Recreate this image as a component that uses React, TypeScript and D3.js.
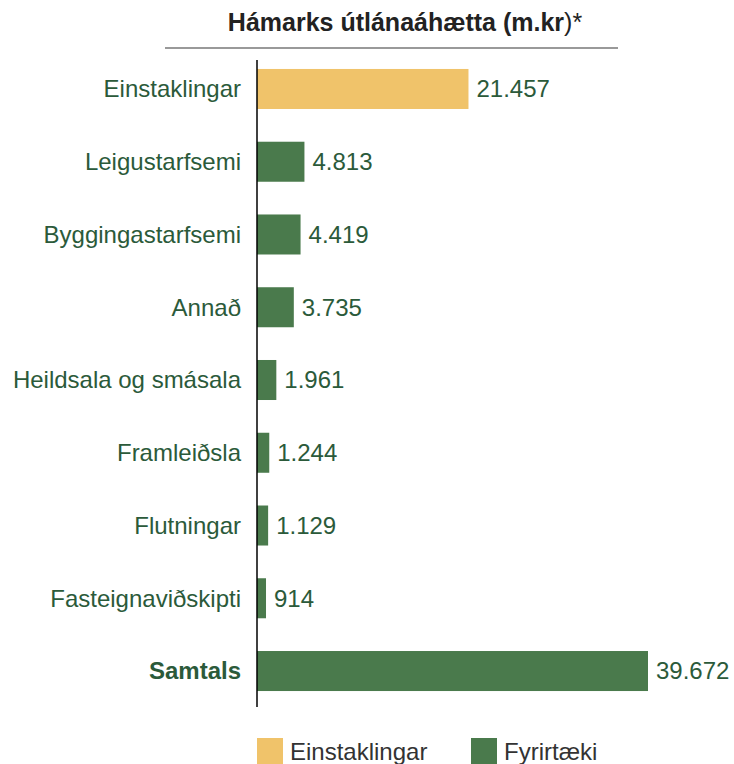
import React from 'react';
import * as d3 from 'd3';

// data
const categories = [
  'Einstaklingar',
  'Leigustarfsemi',
  'Byggingastarfsemi',
  'Annað',
  'Heildsala og smásala',
  'Framleiðsla',
  'Flutningar',
  'Fasteignaviðskipti',
  'Samtals',
];
const values = [21457, 4813, 4419, 3735, 1961, 1244, 1129, 914, 39672];
const groups = ['Einstaklingar', 'Fyrirtæki', 'Fyrirtæki', 'Fyrirtæki', 'Fyrirtæki', 'Fyrirtæki', 'Fyrirtæki', 'Fyrirtæki', 'Fyrirtæki'];
const legendItems = ['Einstaklingar', 'Fyrirtæki'];

const colors: Record<string, string> = {
  Einstaklingar: '#F0C36A',
  Fyrirtæki: '#4A7A4C',
};
const textColor = '#2B5A3A';
const font = 'Arial, "Liberation Sans", sans-serif';

export default function App() {
  const width = 734;
  const height = 764;
  const x0 = 257;

  const xScale = d3.scaleLinear().domain([0, 39672]).range([x0, 648]);
  const yScale = d3.scaleBand<string>()
    .domain(categories)
    .range([52.6, 707.4])
    .paddingInner(0.45)
    .paddingOuter(0.225);

  const fmt = (v: number) => d3.format(',')(v).replace(/,/g, '.');

  return (
    <svg width={width} height={height} style={{position: 'absolute', left: 0, top: 0, fontFamily: font}}>
      <text x={405} y={31} textAnchor="middle" fontSize={25} fontWeight="bold" fill="#222">
        Hámarks útlánaáhætta (m.kr<tspan fontWeight="normal">)*</tspan>
      </text>
      <line x1={165} x2={618} y1={48} y2={48} stroke="#999" strokeWidth={2} />

      {categories.map((c, i) => {
        const y = yScale(c) as number;
        const bw = yScale.bandwidth();
        return (
          <g key={c}>
            <rect x={x0} y={y} width={xScale(values[i]) - x0} height={bw} fill={colors[groups[i]]} />
            <text x={241} y={y + bw / 2} dy="0.35em" textAnchor="end" fontSize={24}
              fontWeight={c === 'Samtals' ? 'bold' : 'normal'} fill={textColor}>{c}</text>
            <text x={xScale(values[i]) + 8} y={y + bw / 2} dy="0.35em" fontSize={24} fill={textColor}>
              {fmt(values[i])}
            </text>
          </g>
        );
      })}

      <line x1={x0} x2={x0} y1={60} y2={707} stroke="#000" strokeWidth={1.5} />

      {legendItems.map((l, i) => {
        const lx = 257 + i * 214;
        return (
          <g key={l}>
            <rect x={lx} y={738} width={26} height={26} fill={colors[l]} />
            <text x={lx + 33} y={752} dy="0.35em" fontSize={24} fill="#333">{l}</text>
          </g>
        );
      })}
    </svg>
  );
}
